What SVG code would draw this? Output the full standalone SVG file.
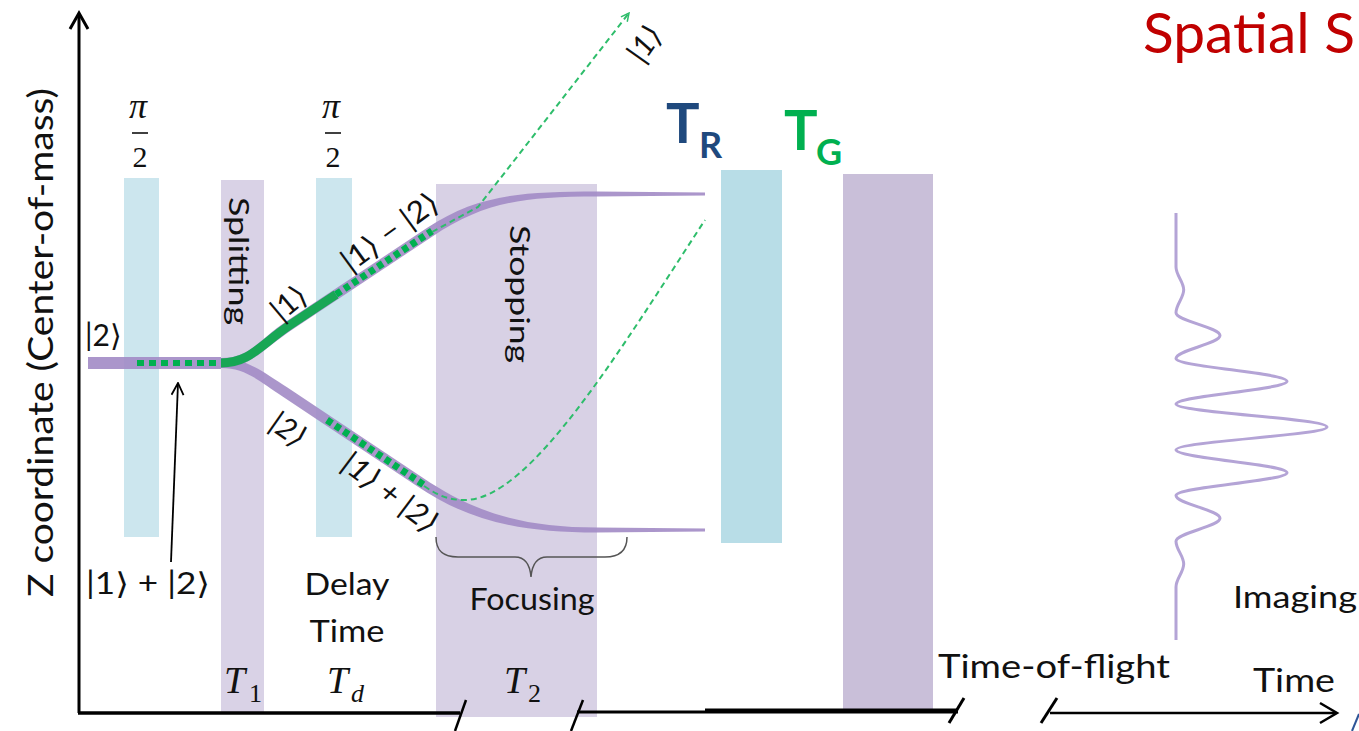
<svg xmlns="http://www.w3.org/2000/svg" width="1359" height="731" viewBox="0 0 1359 731">
<defs>
<style>
.sans{font-family:Lato,"Liberation Sans","DejaVu Sans",sans-serif;fill:#111}
.ket{font-family:Lato,"DejaVu Sans",sans-serif;fill:#111}
.ital{font-family:"Liberation Serif","DejaVu Serif",serif;font-style:italic;fill:#111}
.serif{font-family:"Liberation Serif","DejaVu Serif",serif;fill:#111}
.axis{stroke:#000;fill:none}
.thin{fill:none;stroke:#2ebd6b;stroke-width:2;stroke-dasharray:6 4}
.gdash{fill:none;stroke:#00b050;stroke-width:7;stroke-dasharray:6 4}
.branch{fill:#a28bc5;fill-opacity:0.9}
</style>
<marker id="ga" viewBox="0 0 10 10" refX="9" refY="5" markerWidth="10" markerHeight="10" markerUnits="userSpaceOnUse" orient="auto">
<path d="M1,1 L9,5 L1,9" fill="none" stroke="#2ebd6b" stroke-width="1.5" stroke-dasharray="none"/>
</marker>
<marker id="ka" viewBox="0 0 14 14" refX="13" refY="7" markerWidth="14" markerHeight="14" markerUnits="userSpaceOnUse" orient="auto">
<path d="M1,1 L13,7 L1,13" fill="none" stroke="#000" stroke-width="1.8"/>
</marker>
</defs>

<g id="bars">
<rect id="pi2-bar-1" x="124" y="178" width="35" height="359" fill="#cce6ee"/>
<rect id="pi2-bar-2" x="316" y="178" width="36" height="359" fill="#cce6ee"/>
<rect id="splitting-bar" x="221" y="180" width="43" height="533" fill="#d9d2e6"/>
<rect id="stopping-bar" x="436" y="184" width="161" height="533" fill="#d8d1e5"/>
<rect id="tr-bar" x="721" y="170" width="61" height="373" fill="#b8dde7"/>
<rect id="tg-bar" x="843" y="174" width="90" height="536" fill="#c9bfd9"/>
</g>

<g id="paths">
<rect x="88" y="357" width="133" height="12" fill="#a28bc5" fill-opacity="0.9"/>
<path class="branch" d="M221,358 C250,358 257,341 287.2,320.8 L427.2,227.8 C477,195 520,191.5 597,191.5 L705,192.5 L705,195.5 L597,196.5 C520,196.5 483,203 432.8,236.2 L292.8,329.2 C263,349 250,368 221,368 Z"/>
<path class="branch" d="M221,358 C245,358 262,371 287.8,387.8 L422.8,477.8 C472,511 520,527.5 597,527.5 L705,528.5 L705,531.5 L597,532.5 C518,532.5 467,520 417.2,486.2 L282.2,396.2 C258,380 245,368 221,368 Z"/>
</g>

<g id="connectors">
<path d="M137,363 L221,363" fill="none" stroke="#00b050" stroke-width="6" stroke-dasharray="7 5"/>
<path d="M221,363 C250,363 260,345 290,325 L336,294.4" fill="none" stroke="#10a84e" stroke-width="9" stroke-opacity="0.95"/>
<path class="gdash" d="M336,294.4 L432,231"/>
<path class="gdash" d="M327,420 L424,485"/>
<path class="thin" d="M432,232 C450,222 465,214 478,207 L629,13" marker-end="url(#ga)"/>
<path class="thin" d="M424,486 C440,497 450,500 465,500 C530,500 620,350 705,220"/>
<line x1="171" y1="562" x2="178" y2="383" stroke="#000" stroke-width="1.8" marker-end="url(#ka)"/>
<path d="M436,537 C436,550 442,557 458,557 L515,557 C525,557 530,565 531,577 C532,565 537,557 547,557 L605,557 C620,557 627,550 627,537" fill="none" stroke="#555" stroke-width="1.5"/>
</g>

<g id="axes">
<path class="axis" d="M79,713 L79,14" stroke-width="3"/>
<path class="axis" d="M70,29 L79,13 L88,29" stroke-width="3"/>
<path class="axis" d="M78,713 L460,713" stroke-width="3.5"/>
<path class="axis" d="M466,700 L455,731" stroke-width="2.5"/>
<path class="axis" d="M583,700 L571,731" stroke-width="2.5"/>
<path class="axis" d="M577,712 L705,712" stroke-width="3"/>
<path class="axis" d="M705,711 L958,711" stroke-width="5"/>
<path class="axis" d="M964,698 L949,723" stroke-width="3"/>
<path class="axis" d="M1057,698 L1041,723" stroke-width="3"/>
<path class="axis" d="M1050,713 L1335,713" stroke-width="2.5"/>
<path class="axis" d="M1320,703 L1337,713 L1320,723" stroke-width="2.5"/>
<line x1="1352" y1="731" x2="1359" y2="714" stroke="#2e5597" stroke-width="2"/>
</g>

<g id="wave">
<path d="M1176,213 L1176,267 C1176,275.32 1183.7,281.53 1183.7,289.85 C1183.7,298.17 1176,304.38 1176,312.7 C1176,321.02 1220,327.23 1220,335.55 C1220,343.87 1176,350.08 1176,358.4 C1176,366.72 1287,372.93 1287,381.25 C1287,389.57 1176,395.78 1176,404.1 C1176,412.42 1327,418.63 1327,426.95 C1327,435.27 1176,441.48 1176,449.8 C1176,458.12 1287,464.33 1287,472.65 C1287,480.97 1176,487.18 1176,495.5 C1176,503.82 1220,510.03 1220,518.35 C1220,526.67 1176,532.88 1176,541.2 C1176,549.52 1183.7,555.73 1183.7,564.05 C1183.7,572.37 1176,578.58 1176,586.9 L1176,640" fill="none" stroke="#b4a4d6" stroke-width="3"/>
</g>

<g id="labels">
<text class="sans" transform="translate(53,597) rotate(-90)" font-size="34" textLength="509" lengthAdjust="spacingAndGlyphs">Z coordinate (Center-of-mass)</text>
<g id="pi2-1">
<text class="ital" x="138" y="118" font-size="36" text-anchor="middle">π</text>
<line x1="132" y1="133" x2="148" y2="133" stroke="#111" stroke-width="1.6"/>
<text class="serif" x="140" y="167" font-size="30" text-anchor="middle">2</text>
</g>
<g id="pi2-2">
<text class="ital" x="331" y="118" font-size="36" text-anchor="middle">π</text>
<line x1="325" y1="133" x2="341" y2="133" stroke="#111" stroke-width="1.6"/>
<text class="serif" x="333" y="167" font-size="30" text-anchor="middle">2</text>
</g>
<text class="ket" x="85" y="346" font-size="30">|2⟩</text>
<text class="sans" transform="translate(229,261) rotate(90)" font-size="26" text-anchor="middle" textLength="128" lengthAdjust="spacingAndGlyphs">Splitting</text>
<text class="sans" transform="translate(510,294) rotate(90)" font-size="27" text-anchor="middle" textLength="138" lengthAdjust="spacingAndGlyphs">Stopping</text>
<text class="ket" transform="translate(289,303) rotate(-40)" font-size="30" text-anchor="middle" dy="10">|1⟩</text>
<text class="ket" transform="translate(390,232) rotate(-36)" font-size="30" text-anchor="middle" dy="10" textLength="112" lengthAdjust="spacingAndGlyphs">|1⟩ − |2⟩</text>
<text class="ket" font-style="italic" transform="translate(288,430) rotate(35)" font-size="30" text-anchor="middle" dy="10">|2⟩</text>
<text class="ket" font-style="italic" transform="translate(390,493) rotate(37)" font-size="30" text-anchor="middle" dy="10" textLength="112" lengthAdjust="spacingAndGlyphs">|1⟩ + |2⟩</text>
<text class="ket" font-style="italic" transform="translate(645,44) rotate(-55)" font-size="30" text-anchor="middle" dy="10">|1⟩</text>
<text class="ket" x="86" y="594" font-size="30" textLength="124" lengthAdjust="spacingAndGlyphs">|1⟩ + |2⟩</text>
<text class="sans" x="347" y="595" font-size="30" text-anchor="middle" textLength="85" lengthAdjust="spacingAndGlyphs">Delay</text>
<text class="sans" x="347" y="642" font-size="30" text-anchor="middle" textLength="75" lengthAdjust="spacingAndGlyphs">Time</text>
<text class="sans" x="532" y="610" font-size="30" text-anchor="middle" textLength="125" lengthAdjust="spacingAndGlyphs">Focusing</text>
<text class="ital" x="224" y="693" font-size="38">T</text>
<text class="serif" x="249" y="702" font-size="26">1</text>
<text class="ital" x="327" y="693" font-size="38">T</text>
<text class="ital" x="351" y="702" font-size="26">d</text>
<text class="ital" x="504" y="693" font-size="38">T</text>
<text class="serif" x="528" y="702" font-size="26">2</text>
<text class="sans" x="938" y="678" font-size="32" textLength="232" lengthAdjust="spacingAndGlyphs">Time-of-flight</text>
<text class="sans" x="1253" y="692" font-size="32" textLength="82" lengthAdjust="spacingAndGlyphs">Time</text>
<text class="sans" x="1233" y="608" font-size="30" textLength="124" lengthAdjust="spacingAndGlyphs">Imaging</text>
<g id="TR">
<text x="666" y="143" font-family="Lato,'Liberation Sans',sans-serif" font-weight="bold" font-size="56" fill="#1f497d">T</text>
<text x="699" y="158" font-family="Lato,'Liberation Sans',sans-serif" font-weight="bold" font-size="36" fill="#1f497d">R</text>
</g>
<g id="TG">
<text x="784" y="150" font-family="Lato,'Liberation Sans',sans-serif" font-weight="bold" font-size="56" fill="#00b050">T</text>
<text x="816" y="165" font-family="Lato,'Liberation Sans',sans-serif" font-weight="bold" font-size="36" fill="#00b050">G</text>
</g>
<text x="1143" y="53" font-family="Lato,'Liberation Sans',sans-serif" font-size="57" fill="#c00000" textLength="212" lengthAdjust="spacingAndGlyphs">Spatial S</text>
</g>
</svg>
